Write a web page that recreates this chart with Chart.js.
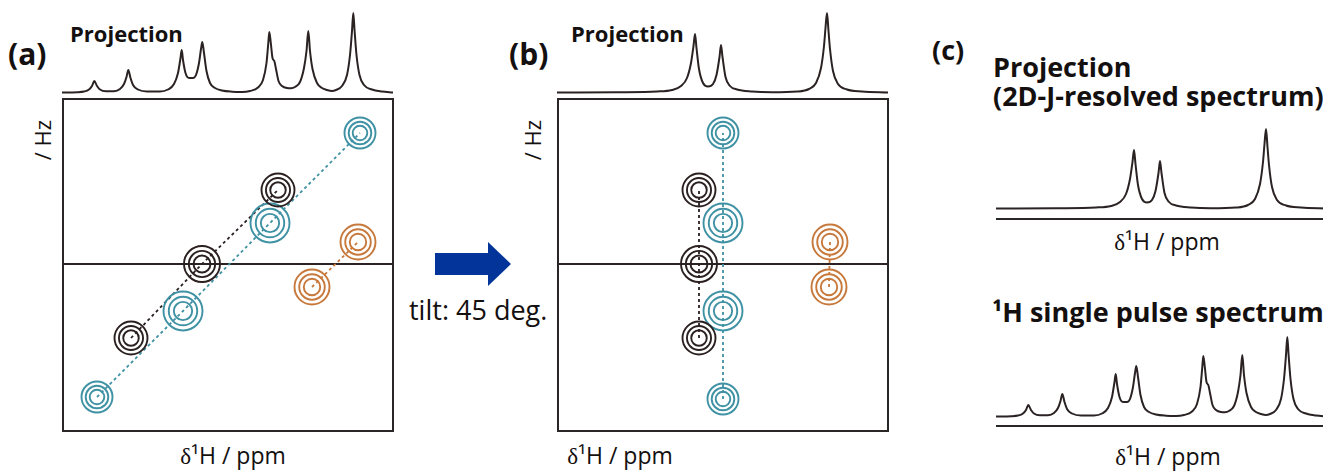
<!DOCTYPE html>
<html>
<head>
<meta charset="utf-8">
<script src="https://cdn.jsdelivr.net/npm/chart.js@4.4.1/dist/chart.umd.min.js"></script>
<style>
  body { margin:0; width:1323px; height:471px; overflow:hidden; background:#fff; position:relative; font-family:"Open Sans", sans-serif; color:#141010; }
  .abs { position:absolute; white-space:nowrap; line-height:1; }
  .b { font-weight:700; }
  .box { position:absolute; border:2px solid #2b2626; box-sizing:border-box; }
  .rule { position:absolute; height:2px; background:#2b2626; }
  .greek { font-family:"Liberation Serif", serif; }
  canvas { position:absolute; }
</style>
</head>
<body>
<div class="abs b" style="left:8px;top:39px;font-size:30px;">(a)</div>
<div class="abs b" style="left:509px;top:39px;font-size:30px;">(b)</div>
<div class="abs b" style="left:932px;top:36px;font-size:27px;">(c)</div>

<div class="abs b" style="left:70px;top:22px;font-size:22px;">Projection</div>
<div class="abs b" style="left:571px;top:22px;font-size:22px;">Projection</div>
<div class="abs b" style="left:993px;top:53px;font-size:27px;">Projection</div>
<div class="abs b" style="left:993px;top:82px;font-size:27px;">(2D-J-resolved spectrum)</div>
<div class="abs b" style="left:992px;top:298px;font-size:27px;">¹H single pulse spectrum</div>

<div class="abs" style="left:42px;top:140px;font-size:22px;transform:translate(-50%,-50%) rotate(-90deg);">/ Hz</div>
<div class="abs" style="left:532px;top:140px;font-size:22px;transform:translate(-50%,-50%) rotate(-90deg);">/ Hz</div>

<div class="abs" style="left:233px;top:444px;font-size:23px;transform:translateX(-50%);"><span class="greek">δ</span>¹H / ppm</div>
<div class="abs" style="left:620px;top:444px;font-size:23px;transform:translateX(-50%);"><span class="greek">δ</span>¹H / ppm</div>
<div class="abs" style="left:1167px;top:230px;font-size:23px;transform:translateX(-50%);"><span class="greek">δ</span>¹H / ppm</div>
<div class="abs" style="left:1168px;top:445px;font-size:23px;transform:translateX(-50%);"><span class="greek">δ</span>¹H / ppm</div>

<div class="abs" style="left:409px;top:296px;font-size:27px;">tilt: 45 deg.</div>
<div style="position:absolute;left:435px;top:253px;width:54px;height:22px;background:#02349a;"></div>
<div style="position:absolute;left:488px;top:242px;width:0;height:0;border-left:23px solid #02349a;border-top:22.5px solid transparent;border-bottom:22.5px solid transparent;"></div>

<div class="box" style="left:62px;top:98px;width:332px;height:334px;"></div>
<div class="box" style="left:557px;top:98px;width:332px;height:334px;"></div>
<div class="rule" style="left:996px;top:218px;width:330px;"></div>
<div class="rule" style="left:996px;top:425px;width:330px;"></div>

<script>
// 1H single pulse spectrum (chemical shift position, intensity)
const pulseShift = [0, 15, 22, 27, 30, 32.3, 35, 38, 44, 52, 58, 62, 64.5, 66.3, 68.5, 71, 76, 85,
  98, 106, 112, 116, 118.5, 119.7, 121, 123.5, 127, 131, 134, 137, 139, 140.3, 142, 144.5, 148, 153, 160, 170, 180,
  188, 196, 201, 204.5, 206.3, 207.3, 208.8, 210.5, 212.3, 214, 216.5, 220, 225, 229,
  233, 238, 242, 244.5, 246.3, 248, 250.5, 255, 260, 265, 270,
  274, 280, 285, 288, 290, 291.3, 292.6, 294.5, 297.5, 302, 310, 320, 331]
const pulseInt = [0.5, 0.8, 1.5, 3.5, 7, 12, 7, 3.5, 1.8, 1.8, 4, 9, 16, 23, 15, 8, 3.5, 1.5,
  1.5, 3.5, 9, 20, 35, 43, 33, 20, 15, 15, 18, 30, 44, 51, 40, 22, 10, 5, 2.5, 1.3, 1,
  2, 5.5, 13, 30, 50, 61, 50, 35, 32, 24, 12, 7, 5, 4.8,
  6, 11, 25, 42, 62, 42, 24, 10, 5, 3, 2,
  3, 7, 18, 38, 62, 80, 62, 38, 18, 8, 3.5, 1.5, 0.5]

// projection of the 2D J-resolved spectrum
const projShift = [0, 60, 100, 115, 124, 130, 134, 136.5, 138, 139.5, 142, 146, 151, 156, 159.5, 162.5, 164, 165.5,
  168.5, 173, 180, 195, 215, 240, 252, 259, 264, 267, 268.5, 270, 271.5, 273, 276, 281, 290, 305, 331]
const projInt = [0.5, 0.8, 1.5, 3, 7, 15, 30, 47, 59, 45, 24, 10, 6.5, 9, 18, 36, 48, 36,
  16, 7, 3.5, 1.5, 0.8, 1.5, 4, 10, 25, 47, 65, 80, 62, 44, 22, 9, 3.5, 1.5, 0.5]

// 2D J-resolved peaks, before tilt (a)
const blackShiftA = [69, 140, 216]
const blackJA = [-74, 0, 74]
const tealShiftA = [35, 121, 208, 298]
const tealJA = [-133, -47, 41, 131]
const orangeShiftA = [250, 296]
const orangeJA = [-23, 22]

// after 45 deg. tilt (b)
const blackShiftB = [142, 142, 142]
const blackJB = [-74, 0, 74]
const tealShiftB = [166, 166, 166, 166]
const tealJB = [-135, -47, 41, 131]
const orangeShiftB = [272, 273]
const orangeJB = [-23, 22]

// contour sizes (outer ring radius, px)
const BLACK_R = [16.5, 18, 16.5]
const TEAL_R = [15.5, 19.5, 19.5, 15.5]
const ORANGE_R = [17.5, 17.5]
const RING_STEPS = [1, 0.73, 0.47]

const INK = '#2b2323'
const TEAL = '#3f91a4'
const ORANGE = '#c7783b'
const BLACK = '#2b2020'

const SHIFT_MAX = 331

function addCanvas(left, top, w, h) {
  const c = document.createElement('canvas')
  c.width = w
  c.height = h
  c.style.left = left + 'px'
  c.style.top = top + 'px'
  document.body.appendChild(c)
  return c
}

const baseOpts = {
  responsive: false,
  animation: false,
  events: [],
  layout: { padding: 0, autoPadding: false },
  plugins: { legend: { display: false }, tooltip: { enabled: false } }
}

function spectrum(canvas, shifts, ints) {
  return new Chart(canvas, {
    type: 'line',
    data: {
      datasets: [{
        data: shifts.map((x, i) => ({ x, y: ints[i] })),
        borderColor: INK,
        borderWidth: 2,
        pointRadius: 0,
        cubicInterpolationMode: 'monotone',
        fill: false
      }]
    },
    options: {
      ...baseOpts,
      scales: {
        x: { type: 'linear', min: 0, max: SHIFT_MAX, display: false },
        y: { min: -3, max: 93, display: false }
      }
    }
  })
}

function jmap(canvas, groups) {
  const datasets = []
  groups.forEach(g => {
    const pts = g.x.map((x, i) => ({ x, y: g.y[i] }))
    RING_STEPS.forEach(f => {
      datasets.push({
        data: pts,
        pointRadius: g.r.map(r => r * f),
        pointBorderColor: g.color,
        pointBackgroundColor: 'rgba(0,0,0,0)',
        pointBorderWidth: 1.9,
        showLine: false
      })
    })
  })
  groups.forEach(g => {
    datasets.push({
      data: g.x.map((x, i) => ({ x, y: g.y[i] })),
      showLine: true,
      borderColor: g.color,
      borderWidth: 1.8,
      borderDash: [3, 3],
      pointRadius: 0,
      fill: false
    })
  })
  return new Chart(canvas, {
    type: 'scatter',
    data: { datasets },
    options: {
      ...baseOpts,
      scales: {
        x: { type: 'linear', min: 0, max: SHIFT_MAX, display: false },
        y: {
          min: -167, max: 166,
          border: { display: false },
          ticks: { display: false },
          grid: { drawTicks: false, color: INK, lineWidth: 2 },
          afterBuildTicks: ax => { ax.ticks = [{ value: 0 }] }
        }
      }
    }
  })
}

spectrum(addCanvas(62, 0, 331, 96), pulseShift, pulseInt)
spectrum(addCanvas(557, 0, 331, 96), projShift, projInt)
spectrum(addCanvas(996, 116, 331, 96), projShift, projInt)
spectrum(addCanvas(996, 324, 331, 96), pulseShift, pulseInt)

jmap(addCanvas(62, 98, 331, 333), [
  { x: blackShiftA, y: blackJA, r: BLACK_R, color: BLACK },
  { x: tealShiftA, y: tealJA, r: TEAL_R, color: TEAL },
  { x: orangeShiftA, y: orangeJA, r: ORANGE_R, color: ORANGE }
])
jmap(addCanvas(557, 98, 331, 333), [
  { x: blackShiftB, y: blackJB, r: BLACK_R, color: BLACK },
  { x: tealShiftB, y: tealJB, r: TEAL_R, color: TEAL },
  { x: orangeShiftB, y: orangeJB, r: ORANGE_R, color: ORANGE }
])
</script>
</body>
</html>
